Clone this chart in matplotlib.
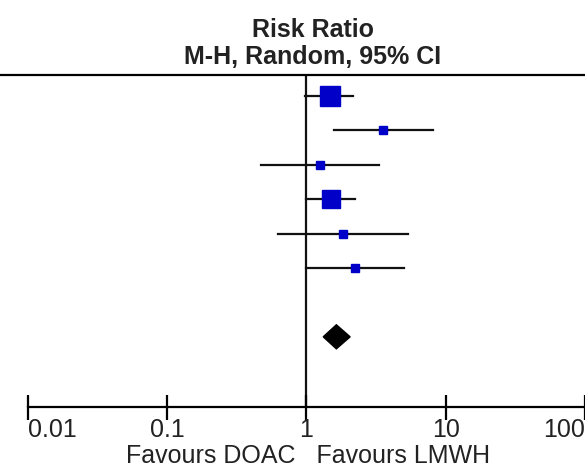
import numpy as np
import matplotlib.pyplot as plt

plt.rcParams['font.family'] = ['Liberation Sans', 'DejaVu Sans']

# study estimates (risk ratio, 95% CI)
est = [1.48, 3.55, 1.26, 1.49, 1.83, 2.23]
lo = [0.98, 1.58, 0.47, 0.99, 0.62, 0.99]
hi = [2.17, 8.10, 3.30, 2.25, 5.35, 5.00]
weights = [40.0, 6.0, 6.0, 29.0, 6.0, 6.0]

pooled_est = 1.64
pooled_lo = 1.32
pooled_hi = 2.06

ticks = [0.01, 0.1, 1, 10, 100]
tick_labels = ['0.01', '0.1', '1', '10', '100']

fig = plt.figure(figsize=(5.85, 4.68), dpi=100)
ax = fig.add_axes([0, 61 / 468, 1, 332 / 468])
ax.set_xscale('log')
ax.set_xlim(10 ** -2.2, 10 ** (-2 + 557 / 140))
ax.set_ylim(9.04, -0.61)

rows = np.arange(len(est))
for r, e, l, h, w in zip(rows, est, lo, hi, weights):
    ax.plot([l, h], [r, r], color='#111111', lw=1.6, zorder=2)
    ax.plot(e, r, marker='s', color='#0000c8', mec='#0000c8',
            ms=14.5 * np.sqrt(w / 40.0), zorder=3)

# pooled diamond
py = 7.0
dh = 0.35
ax.fill([pooled_lo, pooled_est, pooled_hi, pooled_est],
        [py, py - dh, py, py + dh], color='black', zorder=3)

ax.axvline(1, color='#111111', lw=1.6, zorder=1)

for s in ['left', 'right']:
    ax.spines[s].set_visible(False)
ax.spines['top'].set_linewidth(1.6)
ax.spines['bottom'].set_linewidth(1.6)
ax.spines['bottom'].set_bounds(0.01, 100)

ax.set_yticks([])
ax.set_xticks(ticks)
ax.set_xticklabels(tick_labels)
ax.minorticks_off()
ax.tick_params(axis='x', direction='inout', length=18, width=1.6,
               labelsize=18, pad=-1, labelcolor='#222222')
labels = ax.get_xticklabels()
labels[0].set_ha('left')
labels[-1].set_ha('right')

fig.text(0.535, 1 - 30 / 468, 'Risk Ratio', ha='center', va='center',
         fontsize=18, fontweight='bold', color='#222222')
fig.text(0.535, 1 - 57 / 468, 'M-H, Random, 95% CI', ha='center',
         va='center', fontsize=18, fontweight='bold', color='#222222')
fig.text(0.527, 1 - 456 / 468, 'Favours DOAC   Favours LMWH', ha='center',
         va='center', fontsize=18, color='#222222')

fig.savefig('out.png', dpi=100)
